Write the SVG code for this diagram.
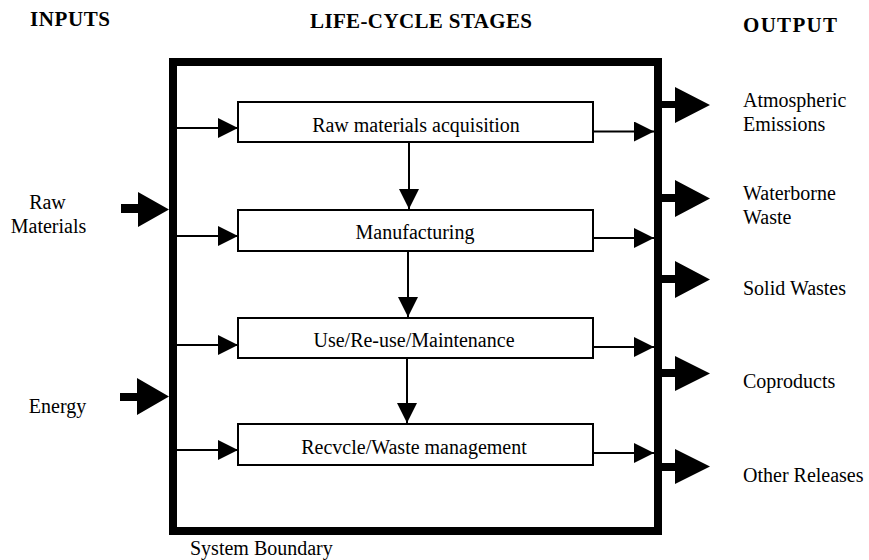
<svg xmlns="http://www.w3.org/2000/svg" width="869" height="560" viewBox="0 0 869 560">
  <defs>
    <style>
      .lbl { font-family: "Liberation Serif", "Times New Roman", serif; font-size: 20px; fill: #000; }
      .hdr { font-family: "Liberation Serif", "Times New Roman", serif; font-size: 21px; font-weight: bold; fill: #000; }
      .mid { text-anchor: middle; }
      .stage { fill: #fff; stroke: #000; stroke-width: 2; }
      .flow { stroke: #000; stroke-width: 2; fill: none; marker-end: url(#tri); }
      .big { fill: #000; }
    </style>
    <marker id="tri" markerUnits="userSpaceOnUse" markerWidth="20" markerHeight="20" refX="20" refY="10" orient="auto">
      <path d="M0,0 L20,10 L0,20 Z" fill="#000"/>
    </marker>
  </defs>
  <rect width="869" height="560" fill="#fff"/>

  <!-- column headings -->
  <g id="headings">
    <text class="hdr" x="30" y="26" textLength="80">INPUTS</text>
    <text class="hdr" x="310" y="28" textLength="222">LIFE-CYCLE STAGES</text>
    <text class="hdr" x="743" y="32" textLength="94">OUTPUT</text>
  </g>

  <!-- system boundary -->
  <g id="boundary">
    <rect x="173" y="62" width="485" height="469" fill="none" stroke="#000" stroke-width="8"/>
    <text class="lbl" x="190" y="555">System Boundary</text>
  </g>

  <!-- life-cycle stages -->
  <g id="stage-raw">
    <rect class="stage" x="238" y="102" width="355" height="40"/>
    <text class="lbl mid" x="416" y="132">Raw materials acquisition</text>
  </g>
  <g id="stage-manufacturing">
    <rect class="stage" x="238" y="210" width="355" height="41"/>
    <text class="lbl mid" x="415" y="239">Manufacturing</text>
  </g>
  <g id="stage-use">
    <rect class="stage" x="238" y="318" width="355" height="40"/>
    <text class="lbl mid" x="414" y="347">Use/Re-use/Maintenance</text>
  </g>
  <g id="stage-recycle">
    <rect class="stage" x="238" y="424" width="355" height="41"/>
    <text class="lbl mid" x="414" y="454">Recvcle/Waste management</text>
  </g>

  <!-- inputs -->
  <g id="input-raw-materials">
    <polygon class="big" points="121,204 138,204 138,192 169,209.5 138,227 138,213 121,213"/>
    <text class="lbl mid" x="47.5" y="209">Raw</text>
    <text class="lbl mid" x="48.5" y="233">Materials</text>
  </g>
  <g id="input-energy">
    <polygon class="big" points="120,393 137,393 137,378 169,396.5 137,415 137,401 120,401"/>
    <text class="lbl mid" x="57.5" y="413">Energy</text>
  </g>

  <!-- outputs -->
  <g id="output-atmospheric">
    <polygon class="big" points="662,101 675,101 675,87 710,105 675,123 675,108 662,108"/>
    <text class="lbl" x="743" y="107">Atmospheric</text>
    <text class="lbl" x="743" y="131">Emissions</text>
  </g>
  <g id="output-waterborne">
    <polygon class="big" points="662,194 675,194 675,180 710,198.5 675,217 675,202 662,202"/>
    <text class="lbl" x="743" y="200">Waterborne</text>
    <text class="lbl" x="743" y="224">Waste</text>
  </g>
  <g id="output-solid">
    <polygon class="big" points="662,275 675,275 675,261 710,279.5 675,298 675,283 662,283"/>
    <text class="lbl" x="743" y="295">Solid Wastes</text>
  </g>
  <g id="output-coproducts">
    <polygon class="big" points="662,369 675,369 675,356 710,373.5 675,391 675,377 662,377"/>
    <text class="lbl" x="743" y="388">Coproducts</text>
  </g>
  <g id="output-other">
    <polygon class="big" points="662,463 675,463 675,449 710,466.5 675,484 675,471 662,471"/>
    <text class="lbl" x="743" y="482">Other Releases</text>
  </g>

  <!-- connectors -->
  <g id="connectors">
    <line class="flow" x1="177" y1="128" x2="238" y2="128"/>
    <line class="flow" x1="177" y1="236" x2="238" y2="236"/>
    <line class="flow" x1="177" y1="345" x2="238" y2="345"/>
    <line class="flow" x1="177" y1="450" x2="238" y2="450"/>

    <line class="flow" x1="593" y1="131.5" x2="654" y2="131.5"/>
    <line class="flow" x1="593" y1="238" x2="654" y2="238"/>
    <line class="flow" x1="593" y1="347" x2="654" y2="347"/>
    <line class="flow" x1="593" y1="453" x2="654" y2="453"/>

    <line class="flow" x1="409" y1="143" x2="409" y2="209"/>
    <line class="flow" x1="408" y1="252" x2="408" y2="317"/>
    <line class="flow" x1="407" y1="359" x2="407" y2="423"/>
  </g>
</svg>
